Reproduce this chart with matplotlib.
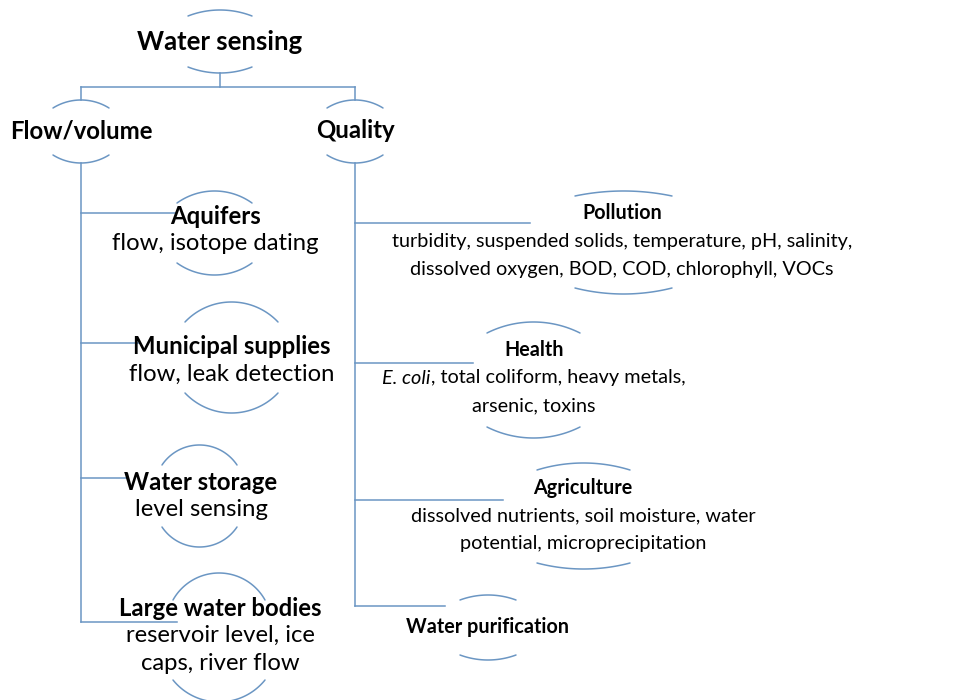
import numpy as np
import matplotlib.pyplot as plt

plt.rcParams['font.family'] = ['Lato', 'DejaVu Sans']

LINE = '#6b96c3'
LW = 1.1

# tree content
root = 'Water sensing'
branches = ['Flow/volume', 'Quality']

flow_nodes = ['Aquifers', 'Municipal supplies', 'Water storage', 'Large water bodies']
flow_desc = [['flow, isotope dating'],
             ['flow, leak detection'],
             ['level sensing'],
             ['reservoir level, ice', 'caps, river flow']]

quality_nodes = ['Pollution', 'Health', 'Agriculture', 'Water purification']
quality_desc = [['turbidity, suspended solids, temperature, pH, salinity,',
                 'dissolved oxygen, BOD, COD, chlorophyll, VOCs'],
                [('E. coli', ', total coliform, heavy metals,'),
                 'arsenic, toxins'],
                ['dissolved nutrients, soil moisture, water',
                 'potential, microprecipitation'],
                []]

# layout (pixel coordinates, y down)
root_xy = (220, 42)
branch_xy = [(81, 131), (355, 131)]
flow_xy = [(215, 217), (232, 347), (201, 482), (220, 608)]
flow_link = [(213, 175), (343, 140), (478, 127), (622, 177)]
flow_arc = [(177, 252, 191, 203, 263, 275),
            (185, 278, 302, 322, 393, 413),
            (162, 237, 445, 465, 527, 547),
            (173, 265, 573, 600, 680, 702)]
qual_xy = [(622, 213), (534, 350), (583, 488), (488, 627)]
qual_link = [(223, 530), (363, 473), (500, 503), (606, 445)]
qual_arc = [(575, 672, 191, 196, 288, 294),
            (487, 580, 322, 333, 427, 438),
            (537, 630, 463, 470, 563, 569),
            (460, 516, 595, 600, 655, 660)]

fig = plt.figure(figsize=(9.59, 7.0), dpi=100)
ax = fig.add_axes([0, 0, 1, 1])
ax.set_xlim(0, 959)
ax.set_ylim(700, 0)
ax.axis('off')
renderer = fig.canvas.get_renderer()


def arc(x0, x1, y_mid, y_end):
    # circular arc through both ends and the middle point
    h = (x1 - x0) / 2
    s = abs(y_end - y_mid)
    sign = 1 if y_end > y_mid else -1
    r = (h ** 2 + s ** 2) / (2 * s)
    a = np.arcsin(h / r)
    t = np.linspace(-a, a, 80)
    xc, yc = (x0 + x1) / 2, y_mid + sign * r
    ax.plot(xc + r * np.sin(t), yc - sign * r * np.cos(t), color=LINE, lw=LW,
            solid_capstyle='round')


def arcs(x0, x1, t_mid, t_end, b_end, b_mid):
    arc(x0, x1, t_mid, t_end)
    arc(x0, x1, b_mid, b_end)


def line_text(x, y, line, size):
    if isinstance(line, str):
        ax.text(x, y, line, ha='center', va='center', fontsize=size)
        return
    # italic lead-in followed by regular text, centred as one line
    t1 = ax.text(0, y, line[0], ha='left', va='center', fontsize=size, style='italic')
    t2 = ax.text(0, y, line[1], ha='left', va='center', fontsize=size)
    w1 = t1.get_window_extent(renderer).width
    w2 = t2.get_window_extent(renderer).width
    start = x - (w1 + w2) / 2
    t1.set_x(start)
    t2.set_x(start + w1)


# root and main branches
ax.text(*root_xy, root, ha='center', va='center', fontsize=18.5, fontweight='bold')
arcs(188, 252, 10, 16, 67, 73)
ax.plot([220, 220], [73, 87], color=LINE, lw=LW)
ax.plot([81, 355], [87, 87], color=LINE, lw=LW)
for (bx, by), name in zip(branch_xy, branches):
    ax.text(bx, by, name, ha='center', va='center', fontsize=17.3, fontweight='bold')
    ax.plot([bx, bx], [87, 100], color=LINE, lw=LW)
    arcs(bx - 28, bx + 28, 100, 108, 155, 163)

# flow/volume column
ax.plot([81, 81], [163, 622], color=LINE, lw=LW)
for (x, y), name, desc, (ly, lx), a in zip(flow_xy, flow_nodes, flow_desc, flow_link, flow_arc):
    ax.plot([81, lx], [ly, ly], color=LINE, lw=LW)
    arcs(*a)
    ax.text(x, y, name, ha='center', va='center', fontsize=17.2, fontweight='bold')
    for i, line in enumerate(desc):
        line_text(x, y + 27 + 28 * i, line, 17.2)

# quality column
ax.plot([355, 355], [163, 606], color=LINE, lw=LW)
for (x, y), name, desc, (ly, lx), a in zip(qual_xy, quality_nodes, quality_desc, qual_link, qual_arc):
    ax.plot([355, lx], [ly, ly], color=LINE, lw=LW)
    arcs(*a)
    ax.text(x, y, name, ha='center', va='center', fontsize=14.2, fontweight='bold')
    for i, line in enumerate(desc):
        line_text(x, y + 28 + 28 * i, line, 14.3)

fig.savefig('out.png', dpi=100)
